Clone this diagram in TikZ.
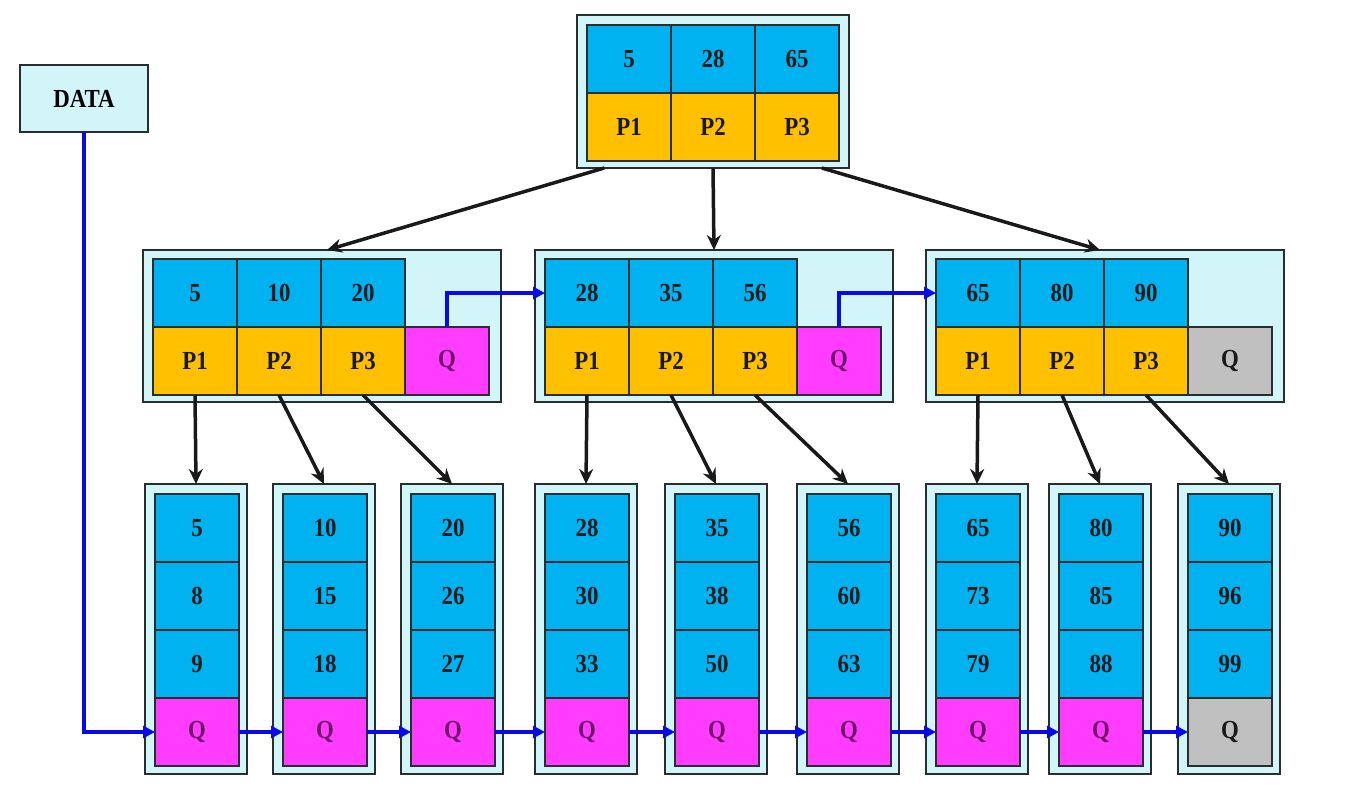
\documentclass[tikz,border=0pt]{standalone}
\usepackage{fontspec}
\setmainfont{Liberation Serif}[FakeStretch=0.88]
\usetikzlibrary{arrows.meta,calc}
\definecolor{keyblue}{RGB}{0,178,240}
\definecolor{ptrorange}{RGB}{255,192,0}
\definecolor{qmag}{RGB}{255,60,255}
\definecolor{qgray}{RGB}{192,192,192}
\definecolor{pale}{RGB}{210,245,250}
\definecolor{edge}{RGB}{40,45,45}
\definecolor{linkblue}{RGB}{10,10,230}
\definecolor{qtext}{RGB}{110,20,105}
\begin{document}
\begin{tikzpicture}[x=1pt,y=-1pt,
  every node/.style={inner sep=0pt,outer sep=0pt},
  outerbox/.style={draw=edge,line width=2.5pt,fill=pale,rectangle},
  cell/.style={draw=edge,line width=1.5pt,rectangle,minimum width=84pt,minimum height=68pt,
    font=\fontsize{26}{26}\selectfont\bfseries,text=black!90},
  key/.style={cell,fill=keyblue},
  ptr/.style={cell,fill=ptrorange},
  qm/.style={cell,fill=qmag,text=qtext},
  qg/.style={cell,fill=qgray},
  arr/.style={draw=black!90,line width=3.5pt,-{Stealth[length=15pt,width=14pt]}},
  blu/.style={draw=linkblue,line width=3.5pt,-{Triangle[length=12pt,width=12pt]}},
]
\useasboundingbox (0,0) rectangle (1348,804);
\fill[white] (0,0) rectangle (1348,804);

% DATA
\node[outerbox,line width=2pt,minimum width=128pt,minimum height=67pt,
  font=\fontsize{26}{26}\selectfont\bfseries] (data) at (84,98.5) {DATA};

% root
\node[outerbox,minimum width=272pt,minimum height=153pt] (root) at (713,91.5) {};
\node[key] (rk1) at (629,59) {5};
\node[key] (rk2) at (713,59) {28};
\node[key] (rk3) at (797,59) {65};
\node[ptr] (rp1) at (629,127) {P1};
\node[ptr] (rp2) at (713,127) {P2};
\node[ptr] (rp3) at (797,127) {P3};

% middle nodes
\foreach \n/\x/\a/\b/\c/\q in {1/143/5/10/20/qm, 2/535/28/35/56/qm, 3/926/65/80/90/qg}{
  \node[outerbox,minimum width=358pt,minimum height=152pt] (m\n) at (\x+179,326) {};
  \node[key] (m\n k1) at (\x+52,293) {\a};
  \node[key] (m\n k2) at (\x+136,293) {\b};
  \node[key] (m\n k3) at (\x+220,293) {\c};
  \node[ptr] (m\n p1) at (\x+52,361) {P1};
  \node[ptr] (m\n p2) at (\x+136,361) {P2};
  \node[ptr] (m\n p3) at (\x+220,361) {P3};
  \node[\q] (m\n q) at (\x+304,361) {Q};
}

% leaves
\foreach \n/\x/\a/\b/\c/\q in {1/145/5/8/9/qm, 2/273/10/15/18/qm, 3/401/20/26/27/qm,
  4/535/28/30/33/qm, 5/665/35/38/50/qm, 6/797/56/60/63/qm,
  7/926/65/73/79/qm, 8/1049/80/85/88/qm, 9/1178/90/96/99/qg}{
  \node[outerbox,minimum width=102pt,minimum height=290pt] (l\n) at (\x+51,629) {};
  \node[key] (l\n a) at (\x+52,528) {\a};
  \node[key] (l\n b) at (\x+52,596) {\b};
  \node[key] (l\n c) at (\x+52,664) {\c};
  \node[\q] (l\n q) at (\x+52,732) {Q};
}

% root to middle
\draw[arr] ($(root.south west)!0.1!(root.south east)$) -- ($(m1.north)+(5,0)$);
\draw[arr] (root.south) -- (m2.north);
\draw[arr] ($(root.south west)!0.9!(root.south east)$) -- ($(m3.north)+(-5,0)$);

% middle to leaves
\foreach \m/\i/\j/\k in {1/1/2/3, 2/4/5/6, 3/7/8/9}{
  \draw[arr] (m\m p1.south) -- (l\i.north);
  \draw[arr] (m\m p2.south) -- (l\j.north);
  \draw[arr] (m\m p3.south) -- (l\k.north);
}

% blue links
\draw[blu] (m1q.north) |- (m2k1.west);
\draw[blu] (m2q.north) |- (m3k1.west);
\draw[blu] (data.south) |- (l1q.west);
\foreach \i/\j in {1/2,2/3,3/4,4/5,5/6,6/7,7/8,8/9}{
  \draw[blu] (l\i q.east) -- (l\j q.west);
}
\end{tikzpicture}
\end{document}
